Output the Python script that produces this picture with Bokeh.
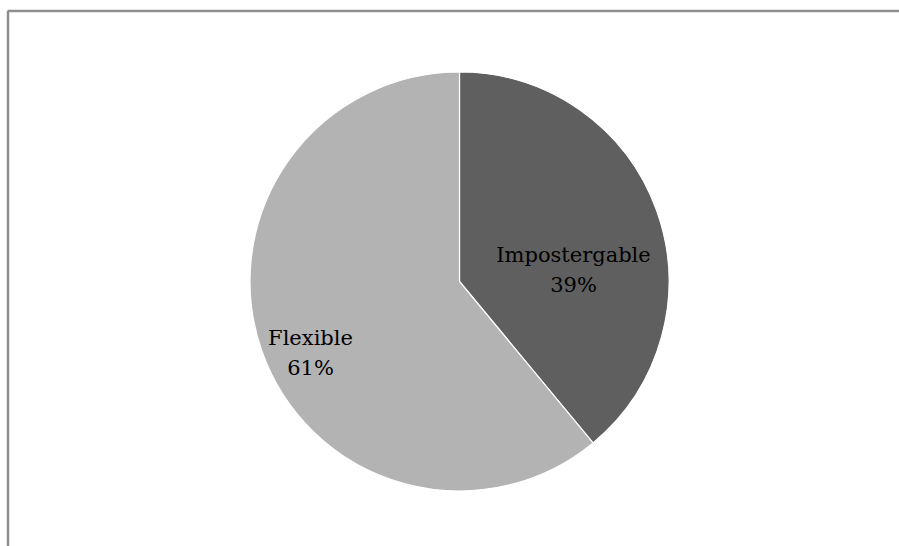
import numpy as np
from bokeh.plotting import figure
from bokeh.models import Range1d
from bokeh.core.properties import value
from bokeh.embed import file_html
from bokeh.resources import INLINE

# data
categories = ["Impostergable", "Flexible"]
shares = [39, 61]
colors = ["#5f5f5f", "#b3b3b3"]

W, H = 899, 546
p = figure(width=W, height=H, output_backend="svg", toolbar_location=None,
           x_range=Range1d(0, W), y_range=Range1d(0, H), min_border=0)
p.axis.visible = False
p.grid.visible = False
p.outline_line_color = None
p.background_fill_color = "white"
p.border_fill_color = "white"

# frame (top and left edges visible)
p.segment(x0=[7, 7.5], y0=[H - 10.5, H - 10.5], x1=[W, 7.5], y1=[H - 10.5, 0],
          line_color="#8e8e8e", line_width=2.5)

cx, cy, r = 459, H - 281, 209.5
frac = np.array(shares) / sum(shares)
cum = np.concatenate([[0], np.cumsum(frac)])
start = np.pi / 2 - cum[:-1] * 2 * np.pi
end = np.pi / 2 - cum[1:] * 2 * np.pi
p.wedge(x=cx, y=cy, radius=r, start_angle=start, end_angle=end, direction="clock",
        fill_color=colors, line_color="white", line_width=1.2)

# label placement offsets (pixels, relative to centre)
lab_dx = [114, -149]
lab_dy = [12, -71]
names = categories
pcts = [f"{s}%" for s in shares]
lx = [cx + d for d in lab_dx]
ly = [cy + d for d in lab_dy]
p.text(x=lx, y=[y + 15 for y in ly], text=names, text_align="center", text_baseline="middle",
       text_font=value("DejaVu Serif"), text_font_size="21px", text_color="#000000")
p.text(x=lx, y=[y - 15 for y in ly], text=pcts, text_align="center", text_baseline="middle",
       text_font=value("DejaVu Serif"), text_font_size="21px", text_color="#000000")

open("out.html", "w").write(file_html(p, INLINE))
